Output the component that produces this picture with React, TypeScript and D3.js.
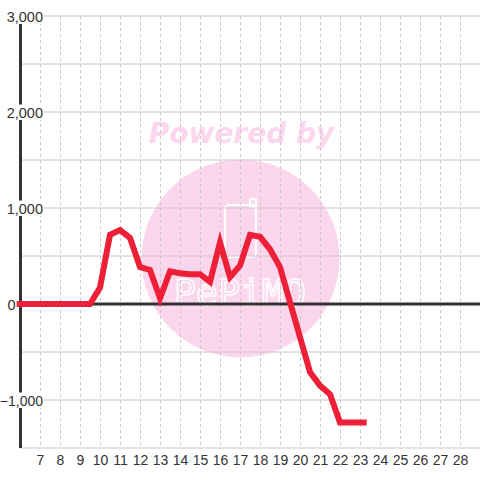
import React from "react";
import * as d3 from "d3";

const hours: number[] = [
  5.8333, 6, 6.5, 7, 7.5, 8, 8.5, 9, 9.5, 10, 10.5, 11, 11.5, 12, 12.5, 13, 13.5,
  14, 14.5, 15, 15.5, 16, 16.5, 17, 17.5, 18, 18.5, 19, 19.5, 20, 20.5, 21, 21.5,
  22, 22.5, 23, 23.3333,
];
const values: number[] = [
  0, 0, 0, 0, 0, 0, 0, 0, 0, 170, 720, 770, 690, 385, 355, 60, 340,
  320, 310, 310, 230, 640, 280, 400, 720, 700, 570, 385, 20, -345, -710, -850, -940,
  -1235, -1235, -1235, -1235,
];
const xTicks: number[] = d3.range(7, 29);
const yLabelTicks: number[] = [3000, 2000, 1000, 0, -1000];
const yGridTicks: number[] = d3.range(-1500, 3001, 500);

const W = 480;
const H = 480;

export default function App() {
  const x = d3.scaleLinear().domain([6, 29]).range([20, 480]);
  const y = d3.scaleLinear().domain([-1500, 3000]).range([448, 16]);
  const pts: [number, number][] = hours.map((h, i) => [h, values[i]]);
  const line = d3
    .line<[number, number]>()
    .x((d) => x(d[0]))
    .y((d) => y(d[1]));
  const fmt = d3.format(",");
  const font = "'Liberation Sans', Arial, sans-serif";

  return (
    <svg
      width={W}
      height={H}
      style={{ position: "absolute", left: 0, top: 0, background: "#fff" }}
    >
      <rect x={0} y={0} width={W} height={H} fill="#fff" />
      {/* watermark */}
      <circle cx={240.5} cy={258.5} r={99} fill="#fcd6ec" />
      <text
        x={241.5}
        y={143}
        textAnchor="middle"
        fontFamily="'DejaVu Sans', sans-serif"
        fontWeight="bold"
        fontStyle="italic"
        fontSize={28}
        fill="#fcd6ec"
      >
        Powered by
      </text>
      <rect x={225} y={205} width={31} height={52} rx={4} fill="none" stroke="#fff" strokeWidth={2} />
      <rect x={250} y={199} width={6} height={8} fill="none" stroke="#fff" strokeWidth={2} />
      <text
        x={240}
        y={305}
        textAnchor="middle"
        fontFamily="'DejaVu Sans Mono', monospace"
        fontSize={36}
        fill="none"
        stroke="#fff"
        strokeWidth={1.5}
        textLength={132}
        lengthAdjust="spacingAndGlyphs"
      >
        PePiMO
      </text>
      {/* horizontal grid */}
      {yGridTicks.map((t) => (
        <line key={"h" + t} x1={20} x2={480} y1={y(t)} y2={y(t)} stroke="#c8c8c8" strokeWidth={1} />
      ))}
      {/* vertical dashed grid */}
      {xTicks.map((t) => (
        <line
          key={"v" + t}
          x1={x(t) + 0.5}
          x2={x(t) + 0.5}
          y1={16}
          y2={448}
          stroke="#c8c8c8"
          strokeWidth={1}
          strokeDasharray="3,3"
        />
      ))}
      {/* y axis */}
      <line x1={20.5} x2={20.5} y1={16} y2={448} stroke="#333" strokeWidth={3} />
      {/* zero line */}
      <line x1={20} x2={480} y1={y(0)} y2={y(0)} stroke="#333" strokeWidth={3} />
      {/* y labels */}
      {yLabelTicks.map((t) =>
        t === 0 ? (
          <text key={"yl" + t} x={7.5} y={y(t) + 5.5} fontFamily={font} fontSize={14.5} fill="#333">
            {fmt(t)}
          </text>
        ) : (
          <g key={"yl" + t}>
            <rect x={2} y={y(t) - 7.5} width={42} height={15.5} fill="#fff" />
            <text
              x={43}
              y={y(t) + 5.5}
              textAnchor="end"
              fontFamily={font}
              fontSize={t < 0 ? 14 : 14.5}
              fill="#333"
            >
              {fmt(t)}
            </text>
          </g>
        )
      )}
      {/* x labels */}
      {xTicks.map((t) => (
        <text
          key={"xl" + t}
          x={x(t) + 0.5}
          y={465}
          textAnchor="middle"
          fontFamily={font}
          fontSize={14}
          fill="#333"
        >
          {t}
        </text>
      ))}
      {/* data line */}
      <path
        d={line(pts) || ""}
        fill="none"
        stroke="#ee2038"
        strokeWidth={6}
        strokeLinejoin="miter"
        strokeLinecap="butt"
      />
    </svg>
  );
}
